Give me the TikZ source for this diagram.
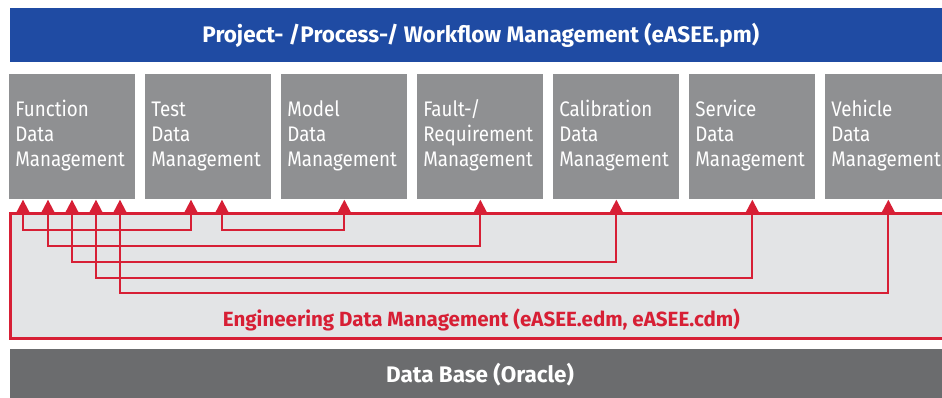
\documentclass[tikz,border=0pt]{standalone}
\usepackage{fontspec}
\setmainfont{Fira Sans}
\newfontfamily\boxfont[FakeStretch=0.89]{Fira Sans}
\usetikzlibrary{arrows.meta,calc}
\definecolor{pmblue}{HTML}{1F4BA3}
\definecolor{modgray}{HTML}{8F9092}
\definecolor{edmfill}{HTML}{E3E4E6}
\definecolor{edmred}{HTML}{D71F35}
\definecolor{dbgray}{HTML}{6B6C6E}

\tikzset{
  banner/.style={fill=#1, text=white, anchor=north west, inner sep=0pt,
    font=\bfseries\fontsize{12.8}{15}\selectfont},
  modbox/.style={fill=modgray, text=white, anchor=north west, align=left,
    text width=2.28cm, inner xsep=0.12cm, minimum height=2.5cm,
    font=\boxfont\fontsize{12}{14.2}\selectfont,
    execute at begin node=\strut, execute at end node=\strut},
  link/.style={edmred, line width=1.1pt,
    {Triangle[length=2.6mm,width=2.6mm]}-{Triangle[length=2.6mm,width=2.6mm]}}
}

\begin{document}
\begin{tikzpicture}[x=0.02cm, y=-0.02cm]
  \useasboundingbox (0,0) rectangle (942,398);
  \fill[white] (0,0) rectangle (942,398);
  \clip (0,0) rectangle (942,398);

  % Top layer: project management
  \node[banner=pmblue, minimum width=18.82cm, minimum height=1.08cm] (pm) at (10,8)
    {Project- /Process-/ Workflow Management (eASEE.pm)};

  % Data management modules
  \foreach \name/\txt [count=\i from 0] in {%
      fdm/{Function\\Data\\Management},
      tdm/{Test\\Data\\Management},
      mdm/{Model\\Data\\Management},
      frm/{Fault-/\\Requirement\\Management},
      cdm/{Calibration\\Data\\Management},
      sdm/{Service\\Data\\Management},
      vdm/{Vehicle\\Data\\Management}} {
    \node[modbox] (\name) at (9+136*\i,74) {\txt};
  }

  % Engineering data management frame
  \node[draw=edmred, line width=1.7pt, fill=edmfill, anchor=north west,
        minimum width=18.84cm, minimum height=2.5cm, inner sep=0pt] (edm) at (9,212) {};
  \node[text=edmred, font=\bfseries\fontsize{11.7}{14}\selectfont] (edmlbl)
    at ([yshift=0.4cm]edm.south) {Engineering Data Management (eASEE.edm, eASEE.cdm)};

  % Links between the modules
  \draw[link] ([xshift=0.28cm]fdm.south west) -- ++(0,30) -| ([xshift=0.92cm]tdm.south west);
  \draw[link] ([xshift=1.54cm]tdm.south west) -- ++(0,30) -| (mdm.south);
  \foreach \dx/\dst/\lvl in {0.78/frm/46, 1.26/cdm/62, 1.74/sdm/78, 2.22/vdm/93}
    \draw[link] ([xshift=\dx cm]fdm.south west) -- ++(0,\lvl) -| (\dst.south);

  % Bottom layer: data base
  \node[banner=dbgray, minimum width=18.84cm, minimum height=1.2cm] (db) at (10,349) {};
  \node[text=white, font=\bfseries\fontsize{12.8}{15}\selectfont] (dblbl)
    at (480,375) {Data Base (Oracle)};
\end{tikzpicture}
\end{document}
